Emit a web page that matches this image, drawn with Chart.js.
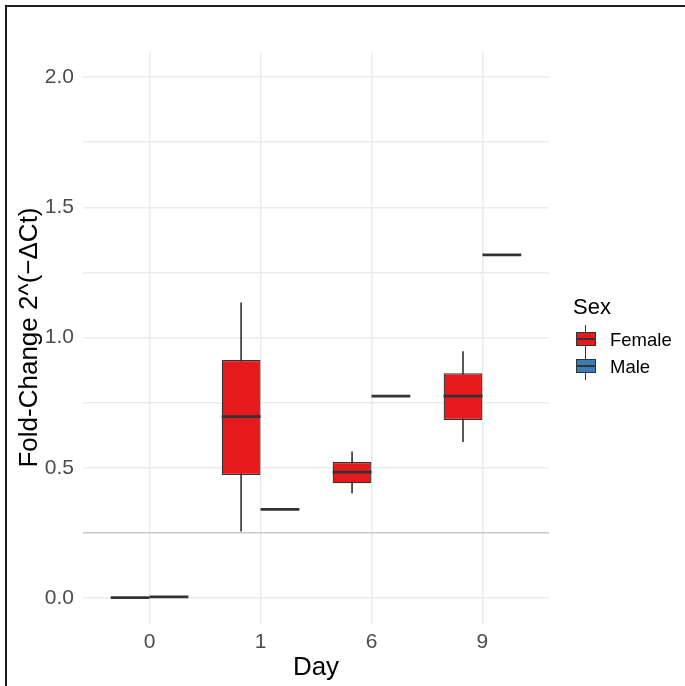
<html>
<head>
<style>
  body { margin: 0; background: #fff; }
  #wrap { position: relative; width: 685px; height: 686px; overflow: hidden; }
  #frame { position: absolute; left: 5px; top: 5px; width: 700px; height: 700px;
           border-left: 2px solid #1e1e1e; border-top: 2px solid #1e1e1e; pointer-events: none; }
  .leg { position: absolute; font-family: "Liberation Sans", Arial, sans-serif; color: #000; white-space: nowrap; }
  .key { position: absolute; width: 22px; height: 28px; }
  .key .box { position: absolute; left: 1px; top: 7px; width: 18px; height: 12px; border: 1px solid #333; }
  .key .mid { position: absolute; left: 1px; top: 13px; width: 20px; height: 2px; background: #333; }
  .key .wh { position: absolute; left: 10px; top: 0; width: 1.4px; height: 28px; background: #333; }
</style>
</head>
<body>
<script src="https://cdn.jsdelivr.net/npm/chart.js@4/dist/chart.umd.min.js"></script>
<div id="wrap">
  <canvas id="myChart" width="685" height="686"></canvas>
  <div class="leg" style="left:573px; top:294px; font-size:22px; line-height:26px;">Sex</div>
  <div class="key" style="left:575px; top:325px;"><div class="wh"></div><div class="box" style="background:#E41A1C"></div><div class="mid"></div></div>
  <div class="leg" style="left:610px; top:329px; font-size:18.5px; line-height:22px;">Female</div>
  <div class="key" style="left:575px; top:352px;"><div class="wh"></div><div class="box" style="background:#377EB8"></div><div class="mid"></div></div>
  <div class="leg" style="left:610px; top:356px; font-size:18.5px; line-height:22px;">Male</div>
  <div id="frame"></div>
</div>
<script>
// values
const days = ['0', '1', '6', '9'];
const femaleMin    = [0.001, 0.255, 0.402, 0.599];
const femaleQ1     = [0.001, 0.472, 0.440, 0.683];
const femaleMedian = [0.001, 0.696, 0.483, 0.775];
const femaleQ3     = [0.001, 0.914, 0.522, 0.863];
const femaleMax    = [0.001, 1.134, 0.562, 0.947];
const maleValue    = [0.004, 0.340, 0.775, 1.317];
const yTicks = [0, 0.25, 0.5, 0.75, 1, 1.25, 1.5, 1.75, 2];

const font = '"Liberation Sans", Arial, sans-serif';
const red = '#E41A1C';
const blue = '#377EB8';
const dark = '#333333';

// draw median line across each box
const medianLines = {
  id: 'medianLines',
  afterDatasetsDraw(chart) {
    const ctx = chart.ctx;
    const y = chart.scales.y;
    const groups = [[1, femaleMedian], [2, maleValue]];
    ctx.save();
    ctx.strokeStyle = dark;
    ctx.lineWidth = 2.8;
    groups.forEach(([idx, meds]) => {
      chart.getDatasetMeta(idx).data.forEach((bar, i) => {
        const py = y.getPixelForValue(meds[i]);
        ctx.beginPath();
        ctx.moveTo(bar.x - bar.width / 2, py);
        ctx.lineTo(bar.x + bar.width / 2, py);
        ctx.stroke();
      });
    });
    ctx.restore();
  }
};

const ctx = document.getElementById('myChart').getContext('2d');
const myChart = new Chart(ctx, {
  type: 'bar',
  data: {
    datasets: [
      {
        label: 'Female whisker',
        stack: 'F',
        order: 3,
        data: days.map((d, i) => ({x: i, y: [femaleMin[i], femaleMax[i]]})),
        backgroundColor: dark,
        borderWidth: 0,
        barPercentage: 0.042,
      },
      {
        label: 'Female',
        stack: 'F',
        order: 1,
        data: days.map((d, i) => ({x: i, y: [femaleQ1[i], femaleQ3[i]]})),
        backgroundColor: red,
        borderColor: dark,
        borderWidth: 1.3,
        borderSkipped: false,
        barPercentage: 1,
      },
      {
        label: 'Male',
        stack: 'M',
        order: 1,
        data: days.map((d, i) => ({x: i, y: [maleValue[i], maleValue[i]]})),
        backgroundColor: blue,
        borderColor: dark,
        borderWidth: 1.3,
        borderSkipped: false,
        barPercentage: 1,
      }
    ]
  },
  options: {
    responsive: false,
    animation: false,
    categoryPercentage: 0.7,
    layout: { padding: { left: 12, right: 136, top: 51, bottom: 1 } },
    plugins: { legend: { display: false }, tooltip: { enabled: false } },
    scales: {
      x: {
        type: 'linear',
        stacked: true,
        offset: false,
        min: -0.6,
        max: 3.6,
        afterBuildTicks: (s) => { s.ticks = days.map((d, i) => ({value: i})); },
        afterFit: (s) => { s.height = 61; },
        ticks: {
          callback: (v) => days[v],
          color: '#4d4d4d',
          font: { family: font, size: 21 },
          padding: 6,
          maxRotation: 0
        },
        grid: { color: '#ebebeb', lineWidth: 1.5, drawTicks: false, offset: false },
        border: { display: false },
        title: { display: true, text: 'Day', color: '#000', font: { family: font, size: 26 }, padding: { top: 0, bottom: 2 } }
      },
      y: {
        stacked: false,
        min: -0.1,
        max: 2.1,
        afterBuildTicks: (s) => { s.ticks = yTicks.map(v => ({value: v})); },
        afterFit: (s) => { s.width = 71; },
        ticks: {
          callback: (v) => (Math.abs(v * 2 - Math.round(v * 2)) < 1e-9 ? v.toFixed(1) : ''),
          color: '#4d4d4d',
          font: { family: font, size: 21 },
          padding: 9
        },
        grid: {
          color: (c) => (c.tick && c.tick.value === 0.25 ? '#c8c8c8' : '#ebebeb'),
          lineWidth: 1.5,
          drawTicks: false
        },
        border: { display: false },
        title: { display: true, text: 'Fold-Change 2^(\u2212\u0394Ct)', color: '#000', font: { family: font, size: 26 }, padding: { top: 2, bottom: 4 } }
      }
    }
  },
  plugins: [medianLines]
});
</script>
</body>
</html>
